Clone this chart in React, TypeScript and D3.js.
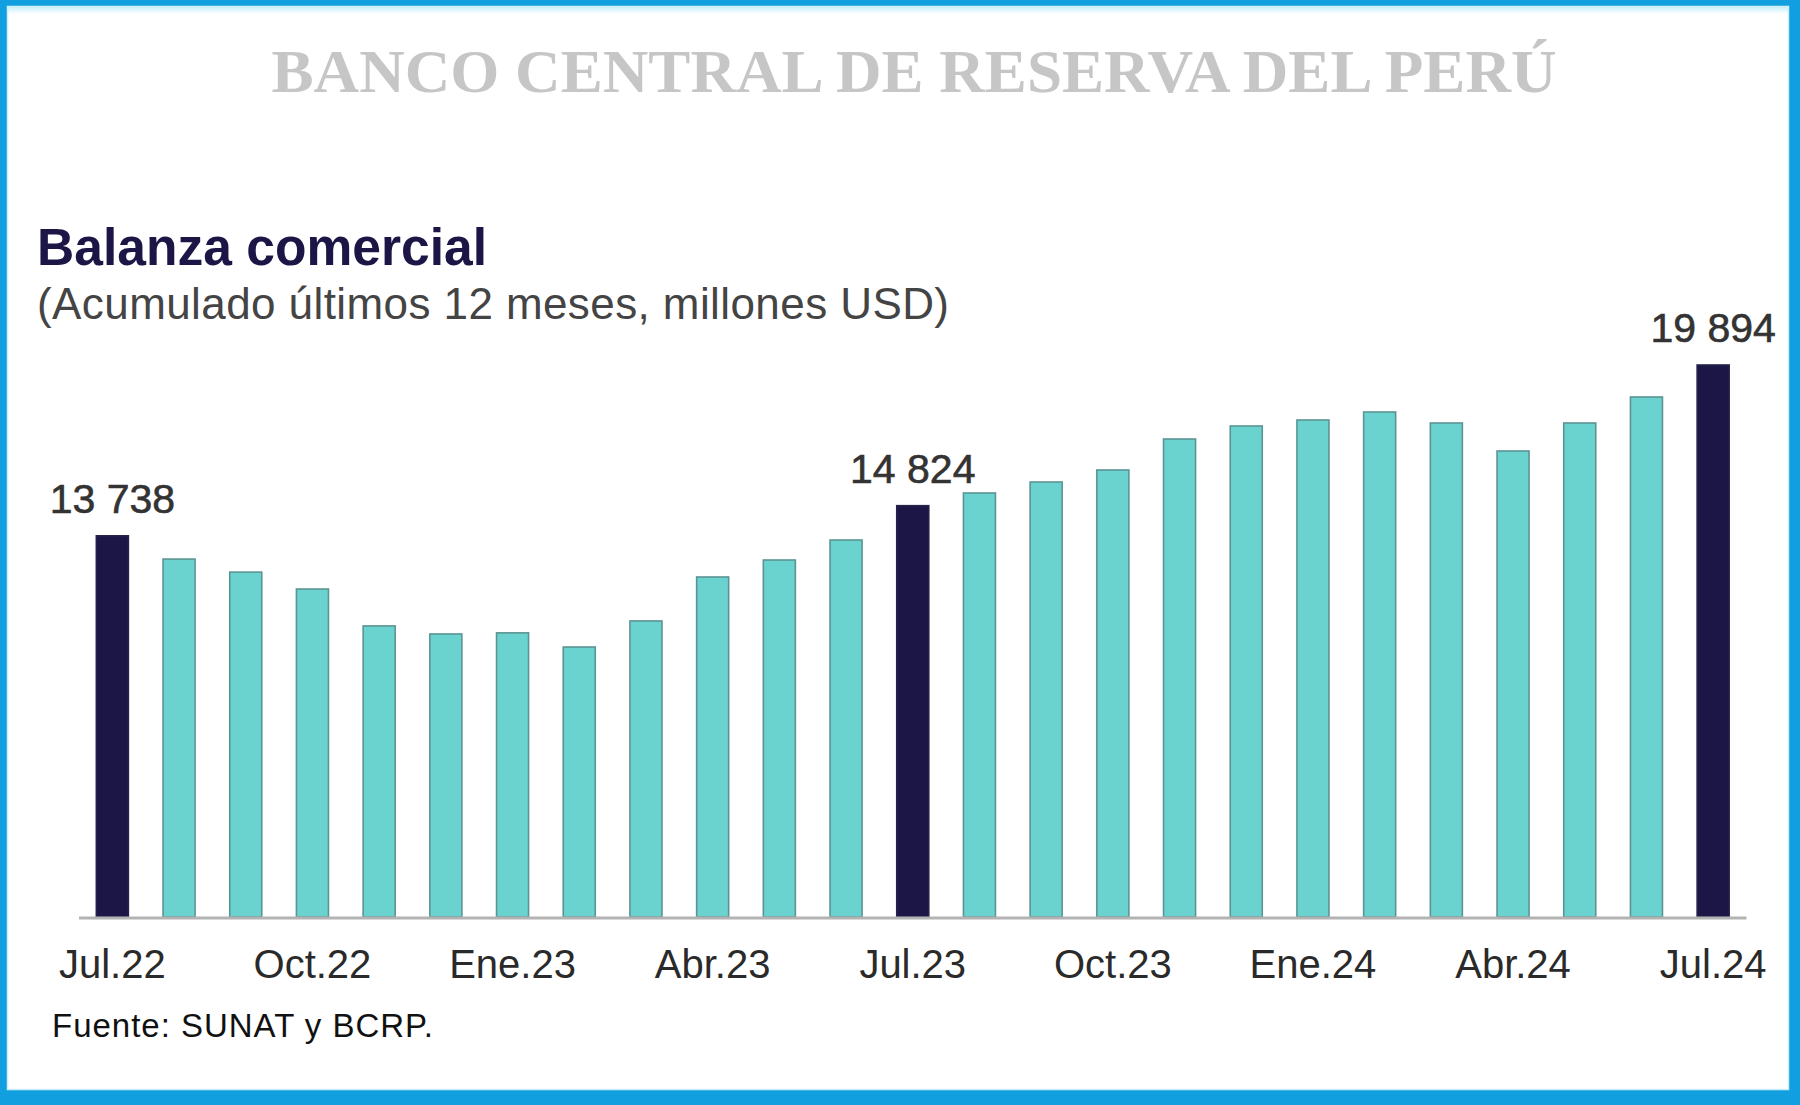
import React from "react";
import * as d3 from "d3";

const months = [
  "Jul.22","Ago.22","Set.22","Oct.22","Nov.22","Dic.22","Ene.23","Feb.23","Mar.23","Abr.23","May.23","Jun.23",
  "Jul.23","Ago.23","Set.23","Oct.23","Nov.23","Dic.23","Ene.24","Feb.24","Mar.24","Abr.24","May.24","Jun.24","Jul.24",
];
const values = [
  13738, 12900, 12430, 11820, 10490, 10200, 10240, 9730, 10670, 12254, 12866, 13587,
  14824, 15281, 15677, 16110, 17227, 17696, 17912, 18200, 17804, 16795, 17804, 18741, 19894,
];
const highlighted = ["Jul.22", "Jul.23", "Jul.24"];
const tickLabels = ["Jul.22","Oct.22","Ene.23","Abr.23","Jul.23","Oct.23","Ene.24","Abr.24","Jul.24"];

const W = 1800;
const H = 1105;

const locale = d3.formatLocale({ decimal: ",", thousands: " ", grouping: [3], currency: ["", ""] });
const fmt = locale.format(",.0f");

export default function App() {
  const x = d3.scaleBand<string>().domain(months).range([79, 1746.5]).paddingInner(0.52).paddingOuter(0.26);
  const y = d3.scaleLinear().domain([0, 19894]).range([917, 365]);
  const sans = "'Liberation Sans', Arial, sans-serif";

  return (
    <svg width={W} height={H} viewBox={`0 0 ${W} ${H}`} style={{ position: "absolute", left: 0, top: 0, display: "block" }}>
      <defs>
        <linearGradient id="topGlow" x1="0" y1="0" x2="0" y2="1">
          <stop offset="0" stopColor="#bdeefa" />
          <stop offset="1" stopColor="#ffffff" />
        </linearGradient>
      </defs>
      <rect x={0} y={0} width={W} height={H} fill="#129fdf" />
      <rect x={7} y={6} width={1782} height={1084} fill="#ffffff" />
      <rect x={7} y={6} width={1782} height={8} fill="url(#topGlow)" />
      <rect x={7.5} y={6.5} width={1781} height={1083} fill="none" stroke="#cdeef8" strokeWidth={1.5} />

      <text x={914} y={92} textAnchor="middle" fontFamily="'Liberation Serif', 'Times New Roman', serif" fontWeight="bold" fontSize={62} fill="#c6c6c6" textLength={1285} lengthAdjust="spacingAndGlyphs">
        BANCO CENTRAL DE RESERVA DEL PERÚ
      </text>

      <text x={37} y={265} fontFamily={sans} fontWeight="bold" fontSize={51} fill="#1b1646" textLength={450} lengthAdjust="spacingAndGlyphs">Balanza comercial</text>
      <text x={37} y={319} fontFamily={sans} fontSize={44} fill="#444444" textLength={912} lengthAdjust="spacing">(Acumulado últimos 12 meses, millones USD)</text>

      {months.map((m, i) => {
        const hi = highlighted.includes(m);
        return (
          <rect
            key={m}
            x={x(m)}
            y={y(values[i])}
            width={x.bandwidth()}
            height={y(0) - y(values[i])}
            fill={hi ? "#1b1646" : "#6ad3cf"}
            stroke={hi ? "#25224a" : "#5c9494"}
            strokeWidth={1.6}
          />
        );
      })}

      <line x1={x.range()[0]} x2={x.range()[1]} y1={y(0) + 1} y2={y(0) + 1} stroke="#b3b3b3" strokeWidth={3} />

      {months.map((m, i) =>
        highlighted.includes(m) ? (
          <text key={"l" + m} x={(x(m) as number) + x.bandwidth() / 2} y={y(values[i]) - 23} textAnchor="middle" fontFamily={sans} fontSize={41} fill="#333333" stroke="#333333" strokeWidth={0.6}>
            {fmt(values[i])}
          </text>
        ) : null
      )}

      {tickLabels.map((t) => (
        <text key={"t" + t} x={(x(t) as number) + x.bandwidth() / 2} y={978} textAnchor="middle" fontFamily={sans} fontSize={40} fill="#2a2a2a">
          {t}
        </text>
      ))}

      <text x={52} y={1037} fontFamily={sans} fontSize={33} fill="#111111" textLength={381} lengthAdjust="spacing">Fuente: SUNAT y BCRP.</text>
    </svg>
  );
}
